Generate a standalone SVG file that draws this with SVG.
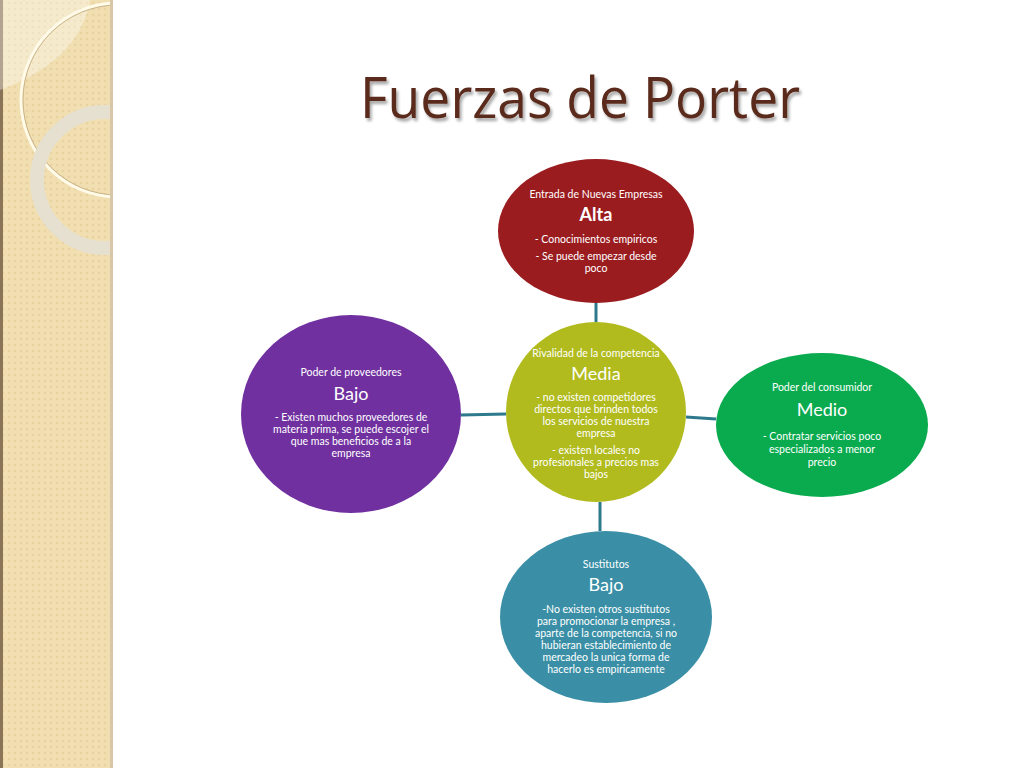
<svg xmlns="http://www.w3.org/2000/svg" width="1024" height="768" viewBox="0 0 1024 768">
<defs>
<pattern id="dots" width="6" height="6" patternUnits="userSpaceOnUse"><rect width="6" height="6" fill="#f1dfb2"/><circle cx="3" cy="3" r="1.3" fill="#e8d2a0"/></pattern>
<filter id="sh" x="-10%" y="-10%" width="130%" height="140%"><feDropShadow dx="2" dy="3" stdDeviation="1.5" flood-color="#000" flood-opacity="0.35"/></filter>
<clipPath id="cp"><rect x="0" y="0" width="113" height="768"/></clipPath>
</defs>
<style>
text{font-family:Lato,"Open Sans","Noto Sans",sans-serif;fill:#fff;text-anchor:middle}
.s{font-size:10.5px}.b{font-size:18px}
.c{stroke:#2e7a8c;stroke-width:3;fill:none}
</style>
<rect width="1024" height="768" fill="#fff"/>
<g id="sidebar" clip-path="url(#cp)">
<rect x="0" y="0" width="113" height="768" fill="url(#dots)"/>
<rect x="0" y="0" width="3" height="768" fill="#8a7458"/>
<path d="M0 0 H90 Q80 60 0 90 Z" fill="#fff" opacity="0.35"/>
<circle cx="118" cy="100" r="97" fill="none" stroke="#fffbe8" stroke-width="3"/>
<circle cx="118" cy="100" r="95" fill="none" stroke="#c9b48a" stroke-width="1"/>
<circle cx="105" cy="180" r="68" fill="none" stroke="#e6e0d0" stroke-width="14"/>
<rect x="110" y="0" width="3" height="768" fill="#d8c8a8"/>
</g>
<text x="580" y="118" style="font-size:56px;fill:#5a2a1a;font-family:'Open Sans',Lato,sans-serif" filter="url(#sh)" textLength="440" lengthAdjust="spacingAndGlyphs">Fuerzas de Porter</text>
<g id="connectors">
<line class="c" x1="596" y1="303" x2="596" y2="322"/>
<line class="c" x1="506" y1="414" x2="461" y2="415"/>
<line class="c" x1="686" y1="417" x2="716" y2="419"/>
<line class="c" x1="600" y1="502" x2="600" y2="531"/>
</g>
<g id="n-entrada">
<ellipse cx="596" cy="231" rx="98" ry="72" fill="#9b1c1f"/>
<text class="s" x="596" y="198">Entrada de Nuevas Empresas</text>
<text class="b" x="596" y="221" style="font-weight:bold">Alta</text>
<text class="s" x="596" y="243">- Conocimientos empiricos</text>
<text class="s" x="596" y="260">- Se puede empezar desde</text>
<text class="s" x="596" y="272">poco</text>
</g>
<g id="n-rivalidad">
<ellipse cx="596" cy="412" rx="90" ry="90" fill="#b1bb1e"/>
<text class="s" x="596" y="357">Rivalidad de la competencia</text>
<text class="b" x="596" y="380">Media</text>
<text class="s" x="596" y="401">- no existen competidores</text>
<text class="s" x="596" y="413">directos que brinden todos</text>
<text class="s" x="596" y="425">los servicios de nuestra</text>
<text class="s" x="596" y="437">empresa</text>
<text class="s" x="596" y="454">- existen locales no</text>
<text class="s" x="596" y="466">profesionales a precios mas</text>
<text class="s" x="596" y="478">bajos</text>
</g>
<g id="n-consumidor">
<ellipse cx="822" cy="425" rx="106" ry="72" fill="#0aab4e"/>
<text class="s" x="822" y="391">Poder del consumidor</text>
<text class="b" x="822" y="416">Medio</text>
<text class="s" x="822" y="440">- Contratar servicios poco</text>
<text class="s" x="822" y="453">especializados a menor</text>
<text class="s" x="822" y="466">precio</text>
</g>
<g id="n-sustitutos">
<ellipse cx="606" cy="617" rx="106" ry="86" fill="#3a8fa6"/>
<text class="s" x="606" y="568">Sustitutos</text>
<text class="b" x="606" y="591">Bajo</text>
<text class="s" x="606" y="613">-No existen otros sustitutos</text>
<text class="s" x="606" y="625">para promocionar la empresa ,</text>
<text class="s" x="606" y="637">aparte de la competencia, si no</text>
<text class="s" x="606" y="649">hubieran establecimiento de</text>
<text class="s" x="606" y="661">mercadeo la unica forma de</text>
<text class="s" x="606" y="673">hacerlo es empiricamente</text>
</g>
<g id="n-proveedores">
<ellipse cx="351" cy="414" rx="110" ry="99" fill="#7030a0"/>
<text class="s" x="351" y="376">Poder de proveedores</text>
<text class="b" x="351" y="400">Bajo</text>
<text class="s" x="351" y="421">- Existen muchos proveedores de</text>
<text class="s" x="351" y="433">materia prima, se puede escojer el</text>
<text class="s" x="351" y="445">que mas beneficios de a la</text>
<text class="s" x="351" y="457">empresa</text>
</g>
</svg>
